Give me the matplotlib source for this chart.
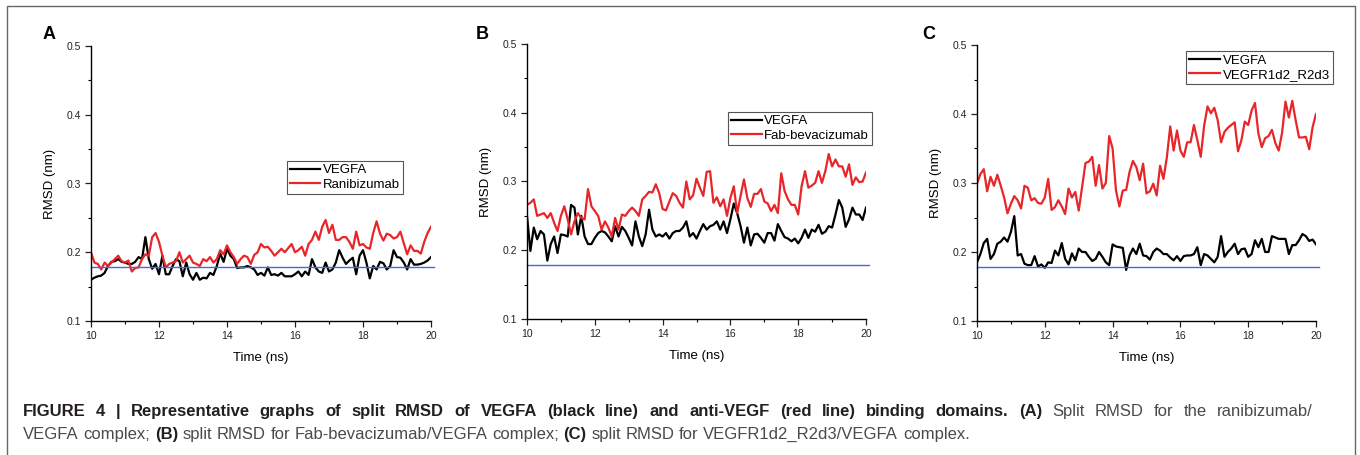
import numpy as np
import matplotlib
matplotlib.use('Agg')
import matplotlib.pyplot as plt
from matplotlib.lines import Line2D
from matplotlib.ticker import MultipleLocator

plt.rcParams['font.family'] = ['Liberation Sans', 'DejaVu Sans']

# time axis, one frame every 0.1 ns
time_ns = np.linspace(10, 20, 101)
baseline = 0.178

# panel A: ranibizumab / VEGFA
a_vegfa = [0.160, 0.163, 0.165, 0.166, 0.170, 0.180, 0.186, 0.187, 0.190, 0.186,
           0.185, 0.183, 0.183, 0.186, 0.193, 0.190, 0.222, 0.190, 0.176, 0.183,
           0.168, 0.195, 0.168, 0.168, 0.180, 0.190, 0.187, 0.165, 0.185, 0.168,
           0.160, 0.170, 0.160, 0.163, 0.162, 0.170, 0.167, 0.180, 0.198, 0.186,
           0.205, 0.195, 0.190, 0.177, 0.178, 0.178, 0.180, 0.178, 0.175, 0.167,
           0.170, 0.166, 0.178, 0.167, 0.168, 0.166, 0.170, 0.165, 0.165, 0.165,
           0.168, 0.172, 0.165, 0.172, 0.167, 0.190, 0.178, 0.172, 0.170, 0.185,
           0.172, 0.175, 0.185, 0.203, 0.192, 0.183, 0.188, 0.192, 0.168, 0.195,
           0.203, 0.185, 0.162, 0.180, 0.175, 0.186, 0.184, 0.175, 0.180, 0.203,
           0.193, 0.192, 0.185, 0.175, 0.190, 0.182, 0.182, 0.183, 0.185, 0.188,
           0.193]
a_drug = [0.200, 0.185, 0.183, 0.175, 0.185, 0.180, 0.185, 0.190, 0.195, 0.187,
          0.185, 0.188, 0.172, 0.177, 0.178, 0.190, 0.197, 0.195, 0.222, 0.228,
          0.215, 0.195, 0.178, 0.183, 0.185, 0.187, 0.200, 0.185, 0.190, 0.195,
          0.185, 0.183, 0.180, 0.190, 0.187, 0.193, 0.185, 0.190, 0.203, 0.197,
          0.210, 0.200, 0.193, 0.183, 0.190, 0.195, 0.193, 0.183, 0.196, 0.200,
          0.212, 0.207, 0.208, 0.202, 0.195, 0.200, 0.205, 0.200, 0.206, 0.212,
          0.200, 0.203, 0.208, 0.195, 0.212, 0.218, 0.230, 0.218, 0.237, 0.247,
          0.228, 0.240, 0.218, 0.218, 0.222, 0.222, 0.215, 0.205, 0.230, 0.210,
          0.212, 0.207, 0.205, 0.228, 0.245, 0.227, 0.217, 0.227, 0.225, 0.220,
          0.222, 0.230, 0.213, 0.197, 0.210, 0.202, 0.202, 0.198, 0.215, 0.228,
          0.237]

# panel B: Fab-bevacizumab / VEGFA
b_vegfa = [0.250, 0.199, 0.233, 0.216, 0.228, 0.223, 0.185, 0.209, 0.220, 0.196,
           0.223, 0.222, 0.220, 0.266, 0.262, 0.223, 0.250, 0.220, 0.209, 0.209,
           0.218, 0.225, 0.228, 0.226, 0.220, 0.213, 0.235, 0.220, 0.234, 0.228,
           0.218, 0.207, 0.242, 0.220, 0.206, 0.223, 0.259, 0.230, 0.220, 0.223,
           0.220, 0.225, 0.217, 0.225, 0.228, 0.228, 0.233, 0.242, 0.220, 0.225,
           0.217, 0.228, 0.238, 0.230, 0.235, 0.237, 0.242, 0.230, 0.242, 0.225,
           0.245, 0.268, 0.254, 0.235, 0.211, 0.233, 0.207, 0.223, 0.224, 0.218,
           0.211, 0.225, 0.225, 0.214, 0.238, 0.228, 0.219, 0.217, 0.213, 0.217,
           0.210, 0.218, 0.230, 0.218, 0.230, 0.227, 0.237, 0.224, 0.227, 0.235,
           0.233, 0.252, 0.273, 0.262, 0.234, 0.245, 0.262, 0.252, 0.252, 0.244,
           0.262]
b_drug = [0.266, 0.269, 0.274, 0.250, 0.252, 0.254, 0.247, 0.254, 0.240, 0.228,
          0.250, 0.264, 0.245, 0.223, 0.242, 0.254, 0.247, 0.245, 0.289, 0.264,
          0.257, 0.250, 0.230, 0.242, 0.233, 0.220, 0.247, 0.230, 0.252, 0.250,
          0.257, 0.262, 0.257, 0.250, 0.274, 0.279, 0.285, 0.284, 0.296, 0.283,
          0.260, 0.258, 0.271, 0.283, 0.279, 0.269, 0.262, 0.300, 0.274, 0.280,
          0.304, 0.291, 0.279, 0.314, 0.315, 0.269, 0.277, 0.264, 0.274, 0.250,
          0.276, 0.293, 0.254, 0.279, 0.303, 0.276, 0.263, 0.282, 0.282, 0.289,
          0.271, 0.268, 0.257, 0.266, 0.254, 0.312, 0.286, 0.274, 0.266, 0.266,
          0.252, 0.293, 0.315, 0.291, 0.294, 0.298, 0.315, 0.298, 0.315, 0.340,
          0.322, 0.332, 0.322, 0.322, 0.307, 0.325, 0.295, 0.306, 0.299, 0.300,
          0.313]

# panel C: VEGFR1d2_R2d3 / VEGFA
c_vegfa = [0.185, 0.197, 0.213, 0.219, 0.190, 0.197, 0.212, 0.215, 0.221, 0.215,
           0.229, 0.252, 0.195, 0.197, 0.183, 0.181, 0.181, 0.194, 0.179, 0.182,
           0.177, 0.185, 0.184, 0.202, 0.195, 0.213, 0.190, 0.182, 0.198, 0.188,
           0.205, 0.200, 0.200, 0.193, 0.187, 0.190, 0.200, 0.193, 0.185, 0.181,
           0.211, 0.208, 0.207, 0.206, 0.174, 0.195, 0.205, 0.197, 0.212, 0.195,
           0.194, 0.189, 0.200, 0.205, 0.202, 0.197, 0.197, 0.192, 0.188, 0.194,
           0.187, 0.194, 0.195, 0.195, 0.197, 0.207, 0.181, 0.197, 0.195, 0.190,
           0.185, 0.193, 0.223, 0.193, 0.200, 0.205, 0.212, 0.197, 0.204, 0.205,
           0.193, 0.197, 0.217, 0.207, 0.219, 0.200, 0.200, 0.223, 0.221, 0.219,
           0.219, 0.219, 0.197, 0.210, 0.210, 0.217, 0.226, 0.223, 0.216, 0.218,
           0.211]
c_drug = [0.299, 0.313, 0.320, 0.288, 0.309, 0.296, 0.312, 0.296, 0.279, 0.256,
          0.270, 0.281, 0.275, 0.263, 0.296, 0.293, 0.275, 0.278, 0.271, 0.270,
          0.279, 0.306, 0.261, 0.265, 0.275, 0.266, 0.255, 0.292, 0.279, 0.287,
          0.260, 0.294, 0.329, 0.331, 0.338, 0.296, 0.326, 0.292, 0.300, 0.368,
          0.350, 0.289, 0.266, 0.289, 0.290, 0.316, 0.332, 0.323, 0.304, 0.328,
          0.285, 0.288, 0.299, 0.282, 0.325, 0.306, 0.337, 0.382, 0.347, 0.376,
          0.347, 0.338, 0.359, 0.359, 0.384, 0.362, 0.338, 0.383, 0.411, 0.401,
          0.409, 0.391, 0.359, 0.374, 0.380, 0.384, 0.388, 0.346, 0.362, 0.389,
          0.384, 0.405, 0.416, 0.372, 0.352, 0.365, 0.368, 0.377, 0.358, 0.347,
          0.373, 0.418, 0.395, 0.419, 0.391, 0.366, 0.366, 0.367, 0.349, 0.381,
          0.400]

panels = [
    ('A', a_vegfa, a_drug, 'Ranibizumab'),
    ('B', b_vegfa, b_drug, 'Fab-bevacizumab'),
    ('C', c_vegfa, c_drug, 'VEGFR1d2_R2d3'),
]

W, H = 1360, 455
fig = plt.figure(figsize=(W / 100, H / 100), dpi=100)

# axes boxes in pixels: left, top, right, bottom
boxes = [(91, 46, 431, 321), (527, 44, 866, 319), (977, 45, 1316, 321)]
letter_x = [43, 476, 922]
legend_anchor = [(0.576, 0.582), (0.593, 0.753), (0.617, 0.978)]

for i, (letter, vegfa, drug, name) in enumerate(panels):
    l, t, r, b = boxes[i]
    ax = fig.add_axes([l / W, 1 - b / H, (r - l) / W, (b - t) / H])
    ax.plot(time_ns, vegfa, color='black', lw=1.6, label='VEGFA')
    ax.plot(time_ns, drug, color='#e8262a', lw=1.6, label=name)
    ax.axhline(baseline, xmin=0, xmax=1.01, color='#4169e1', lw=1.0, clip_on=False)
    ax.set_xlim(10, 20)
    ax.set_ylim(0.1, 0.5)
    ax.xaxis.set_major_locator(MultipleLocator(2))
    ax.xaxis.set_minor_locator(MultipleLocator(1))
    ax.yaxis.set_major_locator(MultipleLocator(0.1))
    ax.yaxis.set_minor_locator(MultipleLocator(0.05))
    ax.yaxis.set_major_formatter(plt.FuncFormatter(lambda v, p: '%.1f' % v))
    for s in ['top', 'right']:
        ax.spines[s].set_visible(False)
    for s in ['left', 'bottom']:
        ax.spines[s].set_linewidth(1.0)
    ax.tick_params(which='major', direction='out', length=4, width=0.9,
                   labelsize=7.5, pad=3, colors='#222')
    ax.tick_params(which='minor', direction='out', length=2.5, width=0.8)
    ax.set_xlabel('Time (ns)', fontsize=9.5, labelpad=8)
    ax.set_ylabel('RMSD (nm)', fontsize=9.5, labelpad=8)
    leg = ax.legend(loc='upper left', bbox_to_anchor=legend_anchor[i],
                    fontsize=9.5, frameon=True, fancybox=False, framealpha=1,
                    edgecolor='#555', handlelength=2.3, handletextpad=0.2,
                    borderpad=0.25, labelspacing=0.15, borderaxespad=0)
    leg.get_frame().set_linewidth(0.8)
    fig.text(letter_x[i] / W, 1 - 39 / H, letter, fontsize=13,
             fontweight='bold', va='baseline', ha='left')

# outer frame of the figure box
fx0, fx1, fy = 7 / W, 1355 / W, 1 - 6 / H
fig.add_artist(Line2D([fx0, fx0, fx1, fx1], [0, fy, fy, 0],
                      transform=fig.transFigure, color='#666', lw=1))

# caption with mixed bold / normal runs (first line justified)
caption = [
    [('FIGURE 4 | Representative graphs of split RMSD of VEGFA (black line) and '
      'anti-VEGF (red line) binding domains.', True), ('(A)', True),
     ('Split RMSD for the ranibizumab/', False)],
    [('VEGFA complex;', False), ('(B)', True),
     ('split RMSD for Fab-bevacizumab/VEGFA complex;', False),
     ('(C)', True), ('split RMSD for VEGFR1d2_R2d3/VEGFA complex.', False)],
]
baselines = [416, 439]
justify = [True, False]
renderer = fig.canvas.get_renderer()
cap_size = 12
space_px = 0.278 * cap_size * 100 / 72
x_left, x_right = 23, 1313
for line, yb, just in zip(caption, baselines, justify):
    words = []
    for txt, bold in line:
        for w in txt.split(' '):
            t = fig.text(0, 1 - yb / H, w, fontsize=cap_size,
                         fontweight='bold' if bold else 'normal',
                         color='#231f20' if bold else '#4a4a4a',
                         va='baseline', ha='left')
            words.append((t, t.get_window_extent(renderer).width))
    total = sum(wd for _, wd in words)
    gap = (x_right - x_left - total) / (len(words) - 1) if just else space_px
    x = x_left
    for t, wd in words:
        t.set_x(x / W)
        x += wd + gap

fig.savefig('out.png', dpi=100)
